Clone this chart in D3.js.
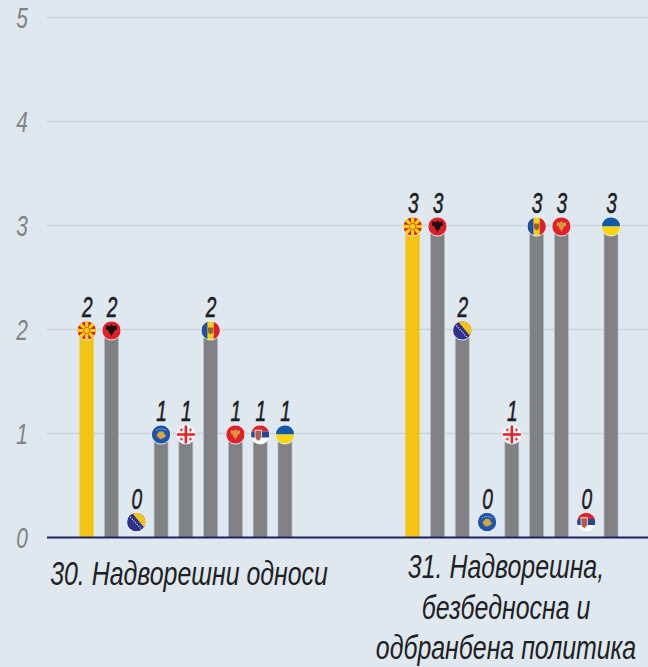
<!DOCTYPE html>
<html><head><meta charset="utf-8">
<script src="https://cdnjs.cloudflare.com/ajax/libs/d3/7.8.5/d3.min.js"></script>
<style>html,body{margin:0;padding:0;background:#dfe8ef;overflow:hidden}svg{display:block}
text{font-family:"Liberation Sans",sans-serif;font-style:italic}</style>
</head><body><svg id="c" width="648" height="667"></svg>
<script>
const tickLabels = [0,1,2,3,4,5];
const groups = ["g30","g31"];
const countries = ["MK","AL","BA","XK","GE","MD","ME","RS","UA"];
const values30 = [2,2,0,1,1,2,1,1,1];
const values31 = [3,3,2,0,1,3,3,0,3];
const titles30 = ["30. Надворешни односи"];
const titles31 = ["31. Надворешна,","безбедносна и","одбранбена политика"];
const highlight = "MK";

const W=648,H=667;
const svg=d3.select("#c");
const y=d3.scaleLinear().domain([0,5]).range([537.5,17.5]);
const x0=d3.scalePoint().domain(groups).range([86.7,412.7]);
const x1=d3.scalePoint().domain(countries).range([0,198.3]);
const R=9.2;

// grid
svg.append("g").selectAll("line").data(tickLabels.filter(d=>d>0)).join("line")
 .attr("x1",47).attr("x2",W).attr("y1",d=>y(d)).attr("y2",d=>y(d))
 .attr("stroke","#c9d3da").attr("stroke-width",1.4);
// tick labels
svg.append("g").selectAll("text").data(tickLabels).join("text")
 .attr("transform",d=>`translate(22,${y(d)+10}) scale(.72,1)`)
 .attr("text-anchor","middle").attr("font-size",29).attr("fill","#808285").text(d=>d);

const defs=svg.append("defs");
const clip=defs.append("clipPath").attr("id","fc");clip.append("circle").attr("r",R);

const rows=[];
groups.forEach((g,gi)=>{const vals=gi?values31:values30;
 countries.forEach((c,i)=>rows.push({g,c,v:vals[i],x:x0(g)+x1(c)}));});

// bars
svg.append("g").selectAll("rect").data(rows.filter(d=>d.v>0)).join("rect")
 .attr("x",d=>d.x-7).attr("width",14).attr("y",d=>y(d.v)).attr("height",d=>y(0)-y(d.v))
 .attr("fill",d=>d.c===highlight?"#f2c313":"#808184")
 .attr("stroke",d=>d.c===highlight?"#e9cf6c":"#b9bfc4").attr("stroke-width",.7);

// baseline
svg.append("line").attr("x1",47).attr("x2",W).attr("y1",y(0)).attr("y2",y(0))
 .attr("stroke","#1f2260").attr("stroke-width",2.2);

function rect(s,x,y,w,h,f){s.append("rect").attr("x",x).attr("y",y).attr("width",w).attr("height",h).attr("fill",f);}
function path(s,d,f){s.append("path").attr("d",d).attr("fill",f);}
const crest={
 eagle:"M0-6.5C1-5.5 1.6-5 1.4-4L5-5.4 5.6-1 3.2-.2 2.2 2.6 1 3.4 0 6.5-1 3.4-2.2 2.6-3.2-.2-5.6-1-5-5.4-1.4-4C-1.6-5-1-5.5 0-6.5Z",
 shield:"M-3.2-3.6H3.2V1C3.2 3 1.4 3.8 0 4.6-1.4 3.8-3.2 3-3.2 1Z",
 xk:"M-1.5-3.2 2-3 3.6-.6 5.2 1.4 2.4 3.6-.4 4.8-3 3-4.6.6-3-1.6Z"
};
const flags={
 MK(s){rect(s,-R,-R,2*R,2*R,"#d8201f");
  d3.range(8).forEach(i=>s.append("path").attr("d","M-1.1 0L-1.9-10H1.9L1.1 0Z").attr("fill","#f8d314").attr("transform",`rotate(${i*45})`));
  s.append("circle").attr("r",3.2).attr("fill","#f8d314").attr("stroke","#d8201f").attr("stroke-width",.7);},
 AL(s){rect(s,-R,-R,2*R,2*R,"#e01f26");path(s,crest.eagle,"#1b1114");},
 BA(s){rect(s,-R,-R,2*R,2*R,"#2e3189");path(s,"M-5-10H10V8Z","#f7c312");
  s.append("line").attr("x1",-6).attr("y1",-5).attr("x2",6).attr("y2",8).attr("stroke","#e8eaf2").attr("stroke-width",1.1).attr("stroke-dasharray","1.2 1.2");},
 XK(s){rect(s,-R,-R,2*R,2*R,"#1f55a8");path(s,crest.xk,"#d6a63c");
  s.append("path").attr("d","M-5-4Q0-7 5-4").attr("fill","none").attr("stroke","#e6ecf5").attr("stroke-width",.9).attr("stroke-dasharray",".9 1");},
 GE(s){rect(s,-R,-R,2*R,2*R,"#fbfbfb");rect(s,-1.3,-R,2.6,2*R,"#e5232b");rect(s,-R,-1.3,2*R,2.6,"#e5232b");
  [[-4.6,-4.6],[4.6,-4.6],[-4.6,4.6],[4.6,4.6]].forEach(([a,b])=>{rect(s,a-.5,b-1.6,1,3.2,"#e5232b");rect(s,a-1.6,b-.5,3.2,1,"#e5232b");});},
 MD(s){rect(s,-R,-R,R*2/3+.2,2*R,"#1f4fa3");rect(s,-R/3,-R,R*2/3,2*R,"#f8d012");rect(s,R/3,-R,R,2*R,"#dc1f2c");
  s.append("path").attr("d",crest.shield).attr("fill","#94632a").attr("transform","scale(.85)");},
 ME(s){rect(s,-R,-R,2*R,2*R,"#e2202a");s.append("path").attr("d",crest.eagle).attr("fill","#d59a3a").attr("transform","scale(.85)");},
 RS(s){rect(s,-R,-R,2*R,6.2,"#dd2433");rect(s,-R,-3,2*R,6.2,"#22488f");rect(s,-R,3.2,2*R,6,"#fbfbfb");
  s.append("path").attr("d",crest.shield).attr("fill","#b05a50").attr("stroke","#f3e5d8").attr("stroke-width",.8).attr("transform","translate(-2,.6) scale(1,1.35)");},
 UA(s){rect(s,-R,-R,2*R,R,"#1257ab");rect(s,-R,0,2*R,R,"#f9d410");}
};
const cy=d=>d.v>0?y(d.v)+1:y(0)-15.5;
const fg=svg.append("g").selectAll("g").data(rows).join("g")
 .attr("transform",d=>`translate(${d.x},${cy(d)})`);
fg.append("circle").attr("r",R+.8).attr("fill","#e9edf0");
fg.append("g").attr("clip-path","url(#fc)").each(function(d){flags[d.c](d3.select(this));});

// value labels
svg.append("g").selectAll("text").data(rows).join("text")
 .attr("transform",d=>`translate(${d.x+.5},${cy(d)-13.5}) scale(.66,1)`)
 .attr("text-anchor","middle").attr("font-size",29).attr("fill","#1f2023")
 .attr("stroke","#1f2023").attr("stroke-width",.6).text(d=>d.v);

// group titles
const tg=svg.append("g").attr("fill","#202124").attr("font-size",33);
function title(lines,cx,y0,dy,sx){tg.selectAll(null).data(lines).join("text")
 .attr("transform",(d,i)=>`translate(${cx},${y0+i*dy}) scale(${sx},1)`)
 .attr("text-anchor","middle").text(d=>d);}
title(titles30,189,585,0,.755);
title(titles31,506,578,40.5,.755);
</script></body></html>
